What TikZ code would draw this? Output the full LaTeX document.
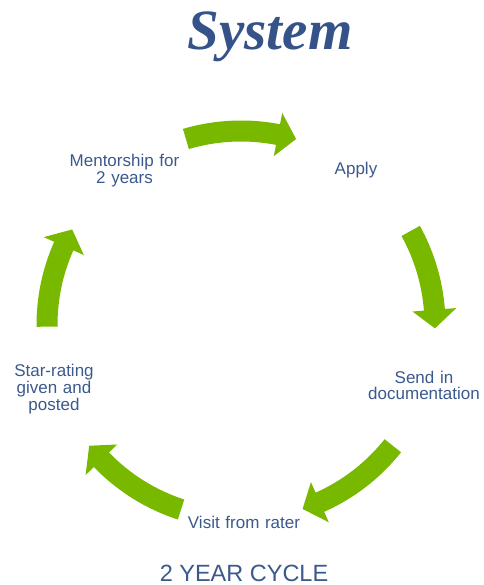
\documentclass[tikz,border=0pt]{standalone}
\usepackage{fontspec}
\setmainfont{Liberation Sans}
\newfontfamily\headingfont{Liberation Serif}
\usetikzlibrary{positioning,calc}
\definecolor{textblue}{RGB}{59,89,140}
\definecolor{headblue}{RGB}{53,83,137}
\definecolor{arrowgreen}{RGB}{120,185,0}
\tikzset{
stage/.style = {text=textblue, font=\fontsize{17}{16.7}\selectfont, align=center, text width=130pt, inner sep=0pt, anchor=base},
heading/.style = {text=headblue, font=\headingfont\bfseries\itshape\fontsize{57}{60}\selectfont, inner sep=0pt, anchor=base},
caption/.style = {text=textblue, font=\fontsize{23.5}{27}\selectfont, inner sep=0pt, anchor=base},
cyclearrow/.style = {fill=arrowgreen, draw=none}
}
% block arrow on the cycle: tail angle, tip angle
\newcommand{\cyclearrow}[2]{%
  \fill[cyclearrow] (#1:204.5pt) arc[start angle=#1, end angle={#2+5.5}, radius=204.5pt]
    -- ({#2+5.5}:216pt) -- (#2:194pt) -- ({#2+5.5}:172pt)
    -- ({#2+5.5}:183.5pt) arc[start angle={#2+5.5}, end angle=#1, radius=183.5pt] -- cycle;}

\begin{document}
\begin{tikzpicture}[x=1pt, y=1pt]
    \useasboundingbox (-241,-260) rectangle (242,325);

    \node [heading] (system) at (29,275) {System};

    \node [stage] (apply) at (115,150) {Apply};
    \node [stage] (send) at (183,-58.3) {Send in\\documentation};
    \node [stage] (visit) at (3,-203) {Visit from rater};
    \node [stage] (star) at (-187,-51.7) {Star-rating\\given and\\posted};
    \node [stage] (mentor) at (-116.5,158.3) {Mentorship for\\2 years};

    \cyclearrow{106.5}{73.5}
    \cyclearrow{29}{-1}
    \cyclearrow{-38.5}{-71.5}
    \cyclearrow{-108}{-141.5}
    \cyclearrow{180.5}{150.5}

    \node [caption] (cycle) at (3,-256.5) {2 YEAR CYCLE};
\end{tikzpicture}
\end{document}
